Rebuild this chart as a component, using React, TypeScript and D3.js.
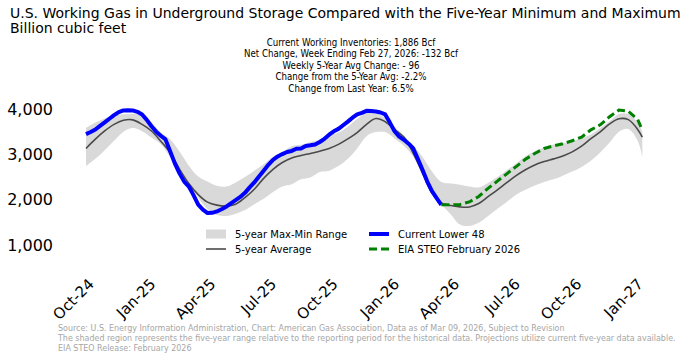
import React from "react";
import * as d3 from "d3";

// ---------- data ----------
const START_DATE = new Date(2024, 8, 13); // week 0 = Sep 13, 2024
const END_DATE = new Date(2027, 0, 1);

// Weekly Lower 48 working gas (Bcf), week 0 .. 76
const currentLower48 = [
  3445, 3492, 3547, 3629, 3705, 3785, 3863, 3932, 3969, 3972, 3969, 3937,
  3880, 3760, 3620, 3500, 3410, 3330, 3070, 2800, 2580, 2400, 2290, 2100,
  1890, 1780, 1705, 1710, 1740, 1790, 1845, 1920, 1990, 2060, 2150, 2270,
  2380, 2510, 2640, 2770, 2880, 2953, 3006, 3052, 3075, 3123, 3130, 3186,
  3199, 3217, 3272, 3343, 3433, 3508, 3561, 3641, 3721, 3808, 3882, 3915,
  3960, 3954, 3946, 3923, 3880, 3700, 3510, 3390, 3320, 3235, 3130, 2895,
  2655, 2400, 2190, 2035, 1886,
];

// Five-year statistics, every two weeks (week index in bandWeeks)
const bandWeeks = [...d3.range(0, 119, 2), 119];
const fiveYearMax = [
  3580, 3700, 3790, 3860, 3885, 3895, 3870, 3710, 3480, 3330, 3060, 2750,
  2510, 2400, 2305, 2290, 2380, 2500, 2640, 2780, 2940, 3050, 3180, 3210,
  3270, 3320, 3410, 3480, 3610, 3780, 3910, 3900, 3800, 3610, 3410, 3200,
  2940, 2620, 2390, 2355, 2330, 2290, 2270, 2370, 2500, 2650, 2800, 2960,
  3070, 3150, 3215, 3250, 3285, 3360, 3440, 3580, 3730, 3890, 3890, 3700,
  3490,
];
const fiveYearMin = [
  2740, 2900, 3090, 3300, 3500, 3580, 3510, 3370, 3230, 2940, 2660, 2360,
  2050, 1790, 1660, 1640, 1690, 1770, 1900, 2020, 2170, 2290, 2340, 2450,
  2490, 2610, 2640, 2740, 2900, 3130, 3400, 3490, 3490, 3350, 3190, 2950,
  2610, 2210, 1900, 1680, 1450, 1420, 1490, 1640, 1800, 1950, 2110, 2220,
  2310, 2390, 2450, 2530, 2620, 2720, 2860, 3040, 3260, 3500, 3560, 3300,
  2940,
];
const fiveYearAvg = [
  3130, 3335, 3515, 3660, 3750, 3760, 3660, 3515, 3290, 3035, 2675, 2355,
  2110, 1945, 1880, 1860, 1900, 2045, 2230, 2470, 2670, 2820, 2920, 2975,
  3020, 3070, 3130, 3220, 3340, 3480, 3660, 3790, 3720, 3550, 3380, 3020,
  2580, 2150, 1930, 1870, 1840, 1840, 1915, 2065, 2215, 2375, 2530, 2660,
  2765, 2840, 2900, 2965, 3055, 3180, 3345, 3495, 3670, 3785, 3765, 3550,
  3380,
];

// EIA STEO February 2026 projection
const steoWeeks = [...d3.range(76, 119, 2), 119];
const steoForecast = [
  1886, 1885, 1895, 1950, 2070, 2250, 2410, 2570, 2730, 2890, 3020, 3130,
  3185, 3235, 3300, 3380, 3540, 3650, 3830, 3975, 3950, 3770, 3535,
];

const tickDates = [
  new Date(2024, 9, 1), new Date(2025, 0, 1), new Date(2025, 3, 1),
  new Date(2025, 6, 1), new Date(2025, 9, 1), new Date(2026, 0, 1),
  new Date(2026, 3, 1), new Date(2026, 6, 1), new Date(2026, 9, 1),
  new Date(2027, 0, 1),
];
const yTickValues = [1000, 2000, 3000, 4000];

const titleLines = [
  "U.S. Working Gas in Underground Storage Compared with the Five-Year Minimum and Maximum",
  "Billion cubic feet",
];
const statsLines = [
  "Current Working Inventories: 1,886 Bcf",
  "Net Change, Week Ending Feb 27, 2026: -132 Bcf",
  "Weekly 5-Year Avg Change: - 96",
  "Change from the 5-Year Avg: -2.2%",
  "Change from Last Year: 6.5%",
];
const footerLines = [
  "Source: U.S. Energy Information Administration, Chart: American Gas Association, Data as of Mar 09, 2026, Subject to Revision",
  "The shaded region represents the five-year range relative to the reporting period for the historical data. Projections utilize current five-year data available.",
  "EIA STEO Release: February 2026",
];
const legendItems = [
  { label: "5-year Max-Min Range", kind: "band", col: 0, row: 0 },
  { label: "5-year Average", kind: "avg", col: 0, row: 1 },
  { label: "Current Lower 48", kind: "current", col: 1, row: 0 },
  { label: "EIA STEO February 2026", kind: "steo", col: 1, row: 1 },
];

// ---------- styles ----------
const BAND = "#d9d9d9";
const AVG = "#4a4a4a";
const BLUE = "#0000ff";
const GREEN = "#008000";
const FONT = "'DejaVu Sans', sans-serif";
const NARROW = "'Liberation Sans Narrow', 'DejaVu Sans Condensed', sans-serif";

const weekDate = (w: number) => d3.timeDay.offset(START_DATE, 7 * w);

export default function App() {
  const x = d3.scaleTime().domain([START_DATE, END_DATE]).range([86, 647]);
  const y = d3.scaleLinear().domain([1000, 4000]).range([245, 109]);

  const bandData = bandWeeks.map((w, i) => ({
    d: weekDate(w),
    hi: fiveYearMax[i],
    lo: fiveYearMin[i],
    avg: fiveYearAvg[i],
  }));
  const area = d3
    .area<any>()
    .x((p) => x(p.d))
    .y0((p) => y(p.lo))
    .y1((p) => y(p.hi))
    .curve(d3.curveCatmullRom);
  const avgLine = d3
    .line<any>()
    .x((p) => x(p.d))
    .y((p) => y(p.avg))
    .curve(d3.curveCatmullRom);
  const curLine = d3
    .line<number>()
    .x((_, i) => x(weekDate(i)))
    .y((v) => y(v));
  const steoLine = d3
    .line<number>()
    .x((_, i) => x(weekDate(steoWeeks[i])))
    .y((v) => y(v));

  const fmtTick = d3.timeFormat("%b-%y");
  const fmtY = d3.format(",");

  const legX = [206, 369];
  const legY = [234, 249];
  const statsCx = 351;
  const footX = 58;

  return (
    <div style={{ position: "fixed", left: 0, top: 0, width: 700, height: 356, background: "#fff" }}>
      <svg width={700} height={356} style={{ display: "block" }}>
        <rect x={0} y={0} width={700} height={356} fill="#fff" />
        {titleLines.map((t, i) => (
          <text key={t} x={10} y={18 + i * 15} fontFamily={FONT} fontSize={14} fill="#000">
            {t}
          </text>
        ))}
        <g transform={`translate(${statsCx},0) scale(0.86,1)`}>
          {statsLines.map((t, i) => (
            <text key={t} x={0} y={46 + i * 11.5} textAnchor="middle" fontFamily={NARROW} fontSize={11.2} fill="#000">
              {t}
            </text>
          ))}
        </g>

        <path d={area(bandData) || ""} fill={BAND} stroke="none" />
        <path d={avgLine(bandData) || ""} fill="none" stroke={AVG} strokeWidth={1.6} />
        <path d={curLine(currentLower48) || ""} fill="none" stroke={BLUE} strokeWidth={4} strokeLinejoin="round" />
        <path d={steoLine(steoForecast) || ""} fill="none" stroke={GREEN} strokeWidth={3} strokeDasharray="8,4" />

        {yTickValues.map((v) => (
          <text key={v} x={53} y={y(v)} dy="0.36em" textAnchor="end" fontFamily={FONT} fontSize={16} fill="#000">
            {fmtY(v)}
          </text>
        ))}
        {tickDates.map((d) => {
          const tx = x(d) - 3;
          const ty = 285;
          return (
            <text key={+d} x={tx} y={ty} transform={`rotate(-45 ${tx} ${ty})`} textAnchor="end" fontFamily={FONT} fontSize={15} fill="#000">
              {fmtTick(d)}
            </text>
          );
        })}

        {legendItems.map((it) => {
          const lx = legX[it.col];
          const ly = legY[it.row];
          let handle;
          if (it.kind === "band") handle = <rect x={lx} y={ly - 4.5} width={20} height={9} fill={BAND} />;
          else if (it.kind === "avg") handle = <line x1={lx} x2={lx + 20} y1={ly} y2={ly} stroke={AVG} strokeWidth={1.6} />;
          else if (it.kind === "current") handle = <line x1={lx} x2={lx + 20} y1={ly} y2={ly} stroke={BLUE} strokeWidth={4} />;
          else handle = <line x1={lx} x2={lx + 20} y1={ly} y2={ly} stroke={GREEN} strokeWidth={3} strokeDasharray="8,4" />;
          return (
            <g key={it.label}>
              {handle}
              <text x={lx + 29} y={ly} dy="0.36em" fontFamily={FONT} fontSize={10} fill="#000">
                {it.label}
              </text>
            </g>
          );
        })}

        <g transform={`translate(${footX},0) scale(0.985,1)`}>
          {footerLines.map((t, i) => (
            <text key={t} x={0} y={331 + i * 10} fontFamily={NARROW} fontSize={9} fill="#a6a6a6">
              {t}
            </text>
          ))}
        </g>
      </svg>
    </div>
  );
}
